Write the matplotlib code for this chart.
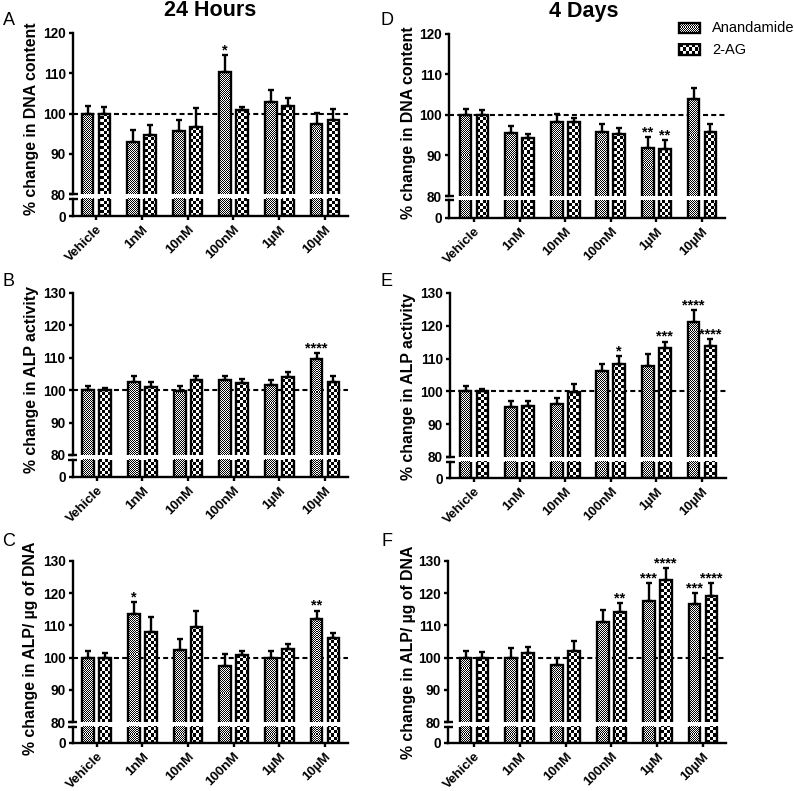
import numpy as np
import matplotlib
matplotlib.use('Agg')
import matplotlib.pyplot as plt

# ---------------- data ----------------
categories = ['Vehicle', '1nM', '10nM', '100nM', '1µM', '10µM']
series_names = ['Anandamide', '2-AG']

dna24_anan = [100, 92.9, 95.6, 110.4, 102.9, 97.5]
dna24_anan_err = [1.8, 3.1, 2.7, 4.2, 3.0, 2.7]
dna24_2ag = [100, 94.6, 96.7, 100.8, 101.8, 98.3]
dna24_2ag_err = [1.7, 2.5, 4.6, 0.9, 2.0, 2.7]
dna24_anan_sig = ['', '', '', '*', '', '']
dna24_2ag_sig = ['', '', '', '', '', '']

dna4_anan = [100, 95.6, 98.3, 95.9, 91.9, 104.0]
dna4_anan_err = [1.6, 1.7, 1.9, 2.0, 2.6, 2.6]
dna4_2ag = [100, 94.4, 98.3, 95.2, 91.7, 95.9]
dna4_2ag_err = [1.3, 1.0, 1.0, 1.5, 2.1, 2.0]
dna4_anan_sig = ['', '', '', '', '**', '']
dna4_2ag_sig = ['', '', '', '', '**', '']

alp24_anan = [100, 102.5, 99.9, 103.0, 101.7, 109.7]
alp24_anan_err = [1.4, 1.8, 1.5, 1.5, 1.4, 1.8]
alp24_2ag = [100, 100.9, 103.0, 102.3, 104.1, 102.5]
alp24_2ag_err = [0.8, 1.6, 1.5, 1.2, 1.5, 1.8]
alp24_anan_sig = ['', '', '', '', '', '****']
alp24_2ag_sig = ['', '', '', '', '', '']

alp4_anan = [100, 95.2, 96.2, 106.1, 107.6, 121.3]
alp4_anan_err = [1.6, 2.0, 1.8, 2.4, 3.9, 3.5]
alp4_2ag = [100, 95.5, 99.9, 108.3, 113.2, 113.7]
alp4_2ag_err = [0.8, 1.7, 2.5, 2.5, 2.0, 2.2]
alp4_anan_sig = ['', '', '', '', '', '****']
alp4_2ag_sig = ['', '', '', '*', '***', '****']

ratio24_anan = [100, 113.6, 102.3, 97.4, 99.9, 111.9]
ratio24_anan_err = [2.0, 3.6, 3.4, 3.6, 2.1, 2.7]
ratio24_2ag = [100, 108.1, 109.5, 100.9, 102.7, 106.1]
ratio24_2ag_err = [1.5, 4.5, 5.1, 1.2, 1.6, 1.5]
ratio24_anan_sig = ['', '*', '', '', '', '**']
ratio24_2ag_sig = ['', '', '', '', '', '']

ratio4_anan = [100, 99.9, 97.8, 111.0, 117.7, 116.7]
ratio4_anan_err = [2.0, 3.2, 2.1, 3.8, 5.5, 3.3]
ratio4_2ag = [100, 101.4, 102.0, 114.1, 124.1, 119.2]
ratio4_2ag_err = [1.6, 1.9, 3.1, 2.9, 3.6, 4.0]
ratio4_anan_sig = ['', '', '', '', '***', '***']
ratio4_2ag_sig = ['', '', '', '**', '****', '****']

# ---------------- styling ----------------
W, H = 794, 791
plt.rcParams['font.family'] = ['Liberation Sans', 'DejaVu Sans']
plt.rcParams['lines.scale_dashes'] = False
fig = plt.figure(figsize=(W / 100, H / 100), dpi=100)

LW = 1.7          # bar edge / spine width (pt)
BW = 0.26         # bar width (category units)
OFF = 0.185       # offset of each series from category centre
SQ = {'Anandamide': 1, '2-AG': 3}
TICK_FS = 9.8
XT_FS = 9.6


def px_axes(x0, x1, yt, yb):
    return fig.add_axes([x0 / W, 1 - yb / H, (x1 - x0) / W, (yb - yt) / H])


def checker(nx, ny, sq):
    ix = np.arange(nx) // sq
    iy = np.arange(ny) // sq
    return ((ix[None, :] + iy[:, None]) % 2).astype(float)


def textured_bars(ax, xs, vals, sq, npx):
    xl, yl = ax.get_xlim(), ax.get_ylim()
    bars = ax.bar(xs, vals, width=BW, facecolor='none', edgecolor='black',
                  linewidth=LW, zorder=3)
    tex = checker(max(int(round(npx[0])), 1), max(int(round(npx[1])), 1), sq)
    for b in bars:
        im = ax.imshow(tex, cmap='gray', vmin=0, vmax=1,
                       extent=(xl[0], xl[1], yl[0], yl[1]), origin='lower',
                       interpolation='nearest', aspect='auto', zorder=2)
        im.set_clip_path(b)
    ax.set_xlim(xl)
    ax.set_ylim(yl)
    return bars


def break_mark(ax, y_axes, half_px, w_px):
    f = half_px / w_px
    ax.plot([-f, f], [y_axes, y_axes], transform=ax.transAxes, color='black',
            lw=LW, clip_on=False, solid_capstyle='butt', zorder=5)


def panel(box, ytop, ylabel, label_xy, series, letter, letter_xy):
    # box: axis_left, first_tick, last_tick, axis_right, y_top, y_80, y_break, y_0 (pixels)
    axl, t0, t5, axr, yt, y80, yb, y0 = box
    sp = (t5 - t0) / 5.0
    xlim = (-(t0 - axl) / sp, 5 + (axr - t5) / sp)
    up = px_axes(axl, axr, yt, y80)
    lo = px_axes(axl, axr, yb, y0)
    up.set_xlim(xlim); up.set_ylim(80, ytop)
    lo.set_xlim(xlim); lo.set_ylim(0, 15)
    x = np.arange(len(categories))
    up_px = (axr - axl, y80 - yt)
    lo_px = (axr - axl, y0 - yb)
    for k, (name, vals, errs, sigs) in enumerate(series):
        xs = x + (-OFF if k == 0 else OFF)
        textured_bars(up, xs, vals, SQ[name], up_px)
        textured_bars(lo, xs, vals, SQ[name], lo_px)
        up.errorbar(xs, vals, yerr=[np.zeros(len(errs)), errs], fmt='none',
                    ecolor='black', elinewidth=LW, capsize=2.1, capthick=LW,
                    zorder=4)
        for xi, v, e, s in zip(xs, vals, errs, sigs):
            if s:
                up.annotate(s, (xi, v + e), xytext=(0, 0.5), textcoords='offset points',
                            ha='center', va='baseline', fontsize=10.5,
                            fontweight='bold', annotation_clip=False)
    up.axhline(100, color='black', lw=1.5, dashes=(3.6, 2.3), zorder=1)
    # axes styling
    for a in (up, lo):
        for s in ('top', 'right'):
            a.spines[s].set_visible(False)
        a.spines['left'].set_linewidth(LW)
        a.tick_params(axis='y', direction='out', length=2.8, width=LW,
                      labelsize=TICK_FS, pad=2.2)
    up.spines['bottom'].set_visible(False)
    up.set_xticks([])
    up.set_yticks(list(range(80, ytop + 1, 10)))
    up.set_yticklabels([str(v) for v in range(80, ytop + 1, 10)],
                       fontweight='bold', fontsize=TICK_FS)
    lo.set_yticks([0])
    lo.set_yticklabels(['0'], fontweight='bold', fontsize=TICK_FS)
    lo.spines['bottom'].set_linewidth(LW)
    lo.set_xticks(x)
    lo.set_xticklabels(categories, rotation=45, ha='right',
                       rotation_mode='anchor', fontweight='bold', fontsize=XT_FS)
    lo.tick_params(axis='x', direction='out', length=3, width=LW, pad=2.5)
    break_mark(up, 0, 4.5, axr - axl)
    break_mark(lo, 1, 4.5, axr - axl)
    fig.text(label_xy[0] / W, 1 - label_xy[1] / H, ylabel, rotation=90,
             ha='center', va='center', fontsize=11.4, fontweight='bold')
    fig.text(letter_xy[0] / W, 1 - letter_xy[1] / H, letter, ha='center',
             va='center', fontsize=13)


panel((73, 96, 325, 348, 33, 194, 198.5, 216), 120, '% change in DNA content', (32, 119),
      [('Anandamide', dna24_anan, dna24_anan_err, dna24_anan_sig),
       ('2-AG', dna24_2ag, dna24_2ag_err, dna24_2ag_sig)], 'A', (8.5, 20.5))
panel((449, 474, 702, 725, 34, 196, 200.5, 218), 120, '% change in DNA content', (408, 123),
      [('Anandamide', dna4_anan, dna4_anan_err, dna4_anan_sig),
       ('2-AG', dna4_2ag, dna4_2ag_err, dna4_2ag_sig)], 'D', (387, 20.5))
panel((72.5, 96.7, 325, 348, 293, 455, 459.5, 477), 130, '% change in ALP activity', (32, 380),
      [('Anandamide', alp24_anan, alp24_anan_err, alp24_anan_sig),
       ('2-AG', alp24_2ag, alp24_2ag_err, alp24_2ag_sig)], 'B', (8.5, 281.5))
panel((450, 474, 702, 726, 293, 457, 461.5, 478), 130, '% change in ALP activity', (409, 386),
      [('Anandamide', alp4_anan, alp4_anan_err, alp4_anan_sig),
       ('2-AG', alp4_2ag, alp4_2ag_err, alp4_2ag_sig)], 'E', (387, 281.5))
panel((72.5, 96.7, 325, 348, 561, 722, 726.5, 743), 130, '% change in ALP/ µg of DNA', (31, 648),
      [('Anandamide', ratio24_anan, ratio24_anan_err, ratio24_anan_sig),
       ('2-AG', ratio24_2ag, ratio24_2ag_err, ratio24_2ag_sig)], 'C', (8.5, 541))
panel((448, 474, 703, 726, 561, 722, 726.5, 743), 130, '% change in ALP/ µg of DNA', (408, 652),
      [('Anandamide', ratio4_anan, ratio4_anan_err, ratio4_anan_sig),
       ('2-AG', ratio4_2ag, ratio4_2ag_err, ratio4_2ag_sig)], 'F', (387, 541))

# titles
fig.text(210.5 / W, 1 - 11 / H, '24 Hours', ha='center', va='center', fontsize=15.5, fontweight='bold')
fig.text(584 / W, 1 - 11 / H, '4 Days', ha='center', va='center', fontsize=15.5, fontweight='bold')

# legend (manual)
for name, yc in zip(series_names, [28, 49.5]):
    lax = px_axes(677, 702, yc - 7, yc + 7)
    lax.set_xlim(0, 1); lax.set_ylim(0, 1)
    lax.axis('off')
    b = lax.bar([0.5], [0.72], bottom=0.14, width=0.84, facecolor='none',
                edgecolor='black', linewidth=LW, zorder=3)
    tex = checker(25, 14, SQ[name])
    im = lax.imshow(tex, cmap='gray', vmin=0, vmax=1, extent=(0, 1, 0, 1),
                    origin='lower', interpolation='nearest', aspect='auto', zorder=2)
    im.set_clip_path(b[0])
    lax.set_xlim(0, 1); lax.set_ylim(0, 1)
    fig.text(712 / W, 1 - yc / H, name, ha='left', va='center', fontsize=10.5)

fig.savefig('out.png', dpi=100)
